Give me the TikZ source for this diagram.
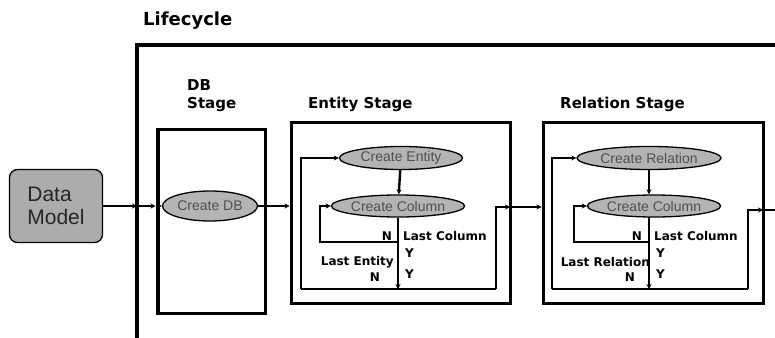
\documentclass[tikz,border=0pt]{standalone}
\usepackage{fontspec}
\setmainfont{Liberation Sans}
\newfontfamily\heavyfont{DejaVu Sans}
\usetikzlibrary{arrows.meta,positioning,calc,shapes.geometric}
\definecolor{ovalgray}{RGB}{180,180,180}
\definecolor{modelgray}{RGB}{172,172,172}
\definecolor{ovaltext}{RGB}{80,80,80}

\begin{document}
\begin{tikzpicture}[
    x=1pt, y=-1pt,
    >={Stealth[length=5pt,width=5pt]},
    stagebox/.style={draw, line width=3pt, minimum width=#1, minimum height=181pt, inner sep=0pt},
    oval/.style={ellipse, draw, line width=1.3pt, fill=ovalgray, minimum width=#1,
        minimum height=23pt, inner sep=0pt, font=\fontsize{14}{16}\selectfont, text=ovaltext},
    heading/.style={font=\heavyfont\bfseries\fontsize{15}{18}\selectfont, anchor=west,
        inner sep=0pt, align=left},
    cond/.style={font=\heavyfont\bfseries\fontsize{12}{14}\selectfont, inner sep=1pt},
    flow/.style={line width=2.4pt},
    arrw/.style={flow, ->},
]
\clip (0,0) rectangle (775,337);
\useasboundingbox (0,0) rectangle (775,337);

% === LIFECYCLE ===
\node[heading, font=\heavyfont\bfseries\fontsize{18}{20}\selectfont] (lifelbl) at (143,21) {Lifecycle};
\draw[line width=3.5pt] (137,340) -- (137,45) -- (780,45);

% === DATA MODEL ===
\node[draw, line width=1.3pt, rounded corners=8pt, fill=modelgray, minimum width=93pt,
    minimum height=73pt, align=left, text=black!85,
    font=\fontsize{21}{23}\selectfont] (datamodel) at (56,206) {Data\\Model};

% === DB STAGE ===
\node[heading] (dblbl) at (187,96) {DB\\Stage};
\node[stagebox=108pt, minimum height=184pt] (dbbox) at (211,221) {};
\draw[line width=3pt] ([xshift=3pt]dbbox.north west) -- ([xshift=3pt]dbbox.south west);
\node[oval=95pt, minimum height=30pt] (createdb) at (210,206) {Create DB};
\coordinate (lifein) at (137,206);
\draw[arrw] (datamodel.east |- lifein) -- (lifein);
\draw[arrw] (lifein) -- (lifein -| dbbox.west);
\draw[arrw] (lifein -| dbbox.west) -- (createdb.west);

% === ENTITY STAGE ===
\node[heading] (entlbl) at (308,104) {Entity Stage};
\node[stagebox=219pt] (entbox) at (400.5,212.5) {};
\node[oval=123pt] (crent) at (401,158) {Create Entity};
\node[oval=113pt, minimum height=22pt] (crcol) at (398,206) {Create Column};
\coordinate (ebl) at (301,289);
\coordinate (ebr) at (496,289);
\coordinate (eloop) at (398,242);
\coordinate (eout) at (510,207);
\draw[arrw] (createdb.east) -- (createdb.east -| entbox.west);
\draw[arrw] (crent) -- (crcol);
\draw[arrw] (crcol) -- (crcol |- ebl);
\draw[arrw] (eloop) -| ($(crcol.west)+(-11,0)$) -- (crcol.west);
\draw[flow] (ebl) -- (ebr);
\draw[arrw] (ebl) |- (crent.west);
\draw[arrw] (ebr) |- (eout);
\node[cond, anchor=east] (en1) at (393,236) {N};
\node[cond, anchor=west] (elastcol) at (402,236) {Last Column};
\node[cond, anchor=west] (ey1) at (404,253) {Y};
\node[cond, anchor=east] (elastent) at (395,262) {Last Entity};
\node[cond, anchor=east] (en2) at (381,277) {N};
\node[cond, anchor=west] (ey2) at (404,274) {Y};

% === RELATION STAGE ===
\node[heading] (rellbl) at (560,104) {Relation Stage};
\node[stagebox=220pt] (relbox) at (653,212.5) {};
\node[oval=144pt] (crrel) at (649,158) {Create Relation};
\node[oval=122pt, minimum height=22pt] (crcol2) at (654,206) {Create Column};
\coordinate (rtop) at (649,217);
\coordinate (rbl) at (552,289);
\coordinate (rbr) at (748,289);
\coordinate (rloop) at (649,242);
\coordinate (rout) at (763,210);
\draw[arrw] (eout) -- (eout -| relbox.west);
\draw[arrw] (crrel.south -| rtop) -- (crcol2.north -| rtop);
\draw[arrw] (rtop) -- (rtop |- rbl);
\draw[arrw] (rloop) -| ($(crcol2.west)+(-13,0)$) -- (crcol2.west);
\draw[flow] (rbl) -- (rbr);
\draw[arrw] (rbl) |- (crrel.west);
\draw[arrw] (rbr) |- (rout);
\draw[flow] (rout) -- (780,210);
\node[cond, anchor=east] (rn1) at (643,236) {N};
\node[cond, anchor=west] (rlastcol) at (653,236) {Last Column};
\node[cond, anchor=west] (ry1) at (655,253) {Y};
\node[cond, anchor=east] (rlastrel) at (651,262) {Last Relation};
\node[cond, anchor=east] (rn2) at (636,277) {N};
\node[cond, anchor=west] (ry2) at (655,274) {Y};

\end{tikzpicture}
\end{document}
